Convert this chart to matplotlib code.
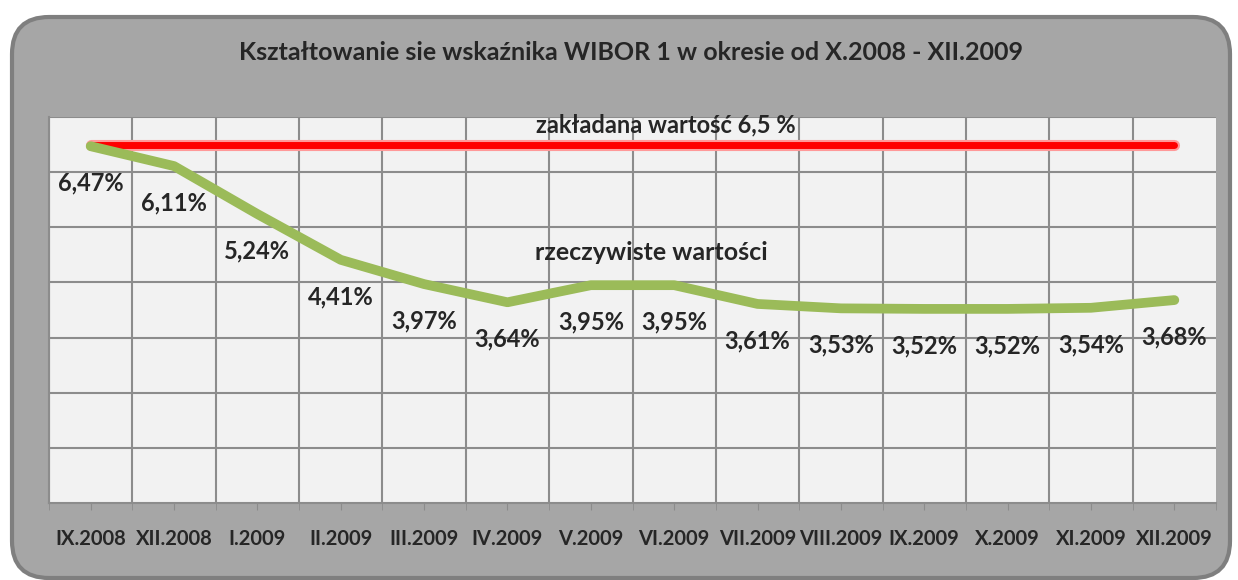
import matplotlib.pyplot as plt
from matplotlib.patches import FancyBboxPatch
from matplotlib.ticker import FixedLocator

# dane
miesiace = ["IX.2008", "XII.2008", "I.2009", "II.2009", "III.2009", "IV.2009", "V.2009",
            "VI.2009", "VII.2009", "VIII.2009", "IX.2009", "X.2009", "XI.2009", "XII.2009"]
wibor = [6.47, 6.11, 5.24, 4.41, 3.97, 3.64, 3.95, 3.95, 3.61, 3.53, 3.52, 3.52, 3.54, 3.68]
zakladana = [6.5] * len(miesiace)
etykiety = [f"{v:.2f}".replace(".", ",") + "%" for v in wibor]

plt.rcParams['font.family'] = ['Lato', 'DejaVu Sans']
plt.rcParams['font.weight'] = 'bold'

fig = plt.figure(figsize=(12.38, 5.8), dpi=100)

# szare tlo z zaokraglonymi rogami
tlo = FancyBboxPatch((12 / 1238, 2 / 580), 1218 / 1238, 561 / 580,
                     boxstyle="round,pad=0,rounding_size=0.03",
                     transform=fig.transFigure, facecolor="#a6a6a6",
                     edgecolor="#7f7f7f", linewidth=3, mutation_aspect=1238 / 580,
                     zorder=-10)
fig.patches.append(tlo)

ax = fig.add_axes([49 / 1238, 1 - 503 / 580, (1216 - 49) / 1238, (503 - 117) / 580])
ax.set_facecolor("#f2f2f2")

x = range(len(miesiace))
# czerwona linia z jasniejsza otoczka
ax.plot(x, zakladana, color="#ff9999", linewidth=8, solid_capstyle="round", zorder=3)
ax.plot(x, zakladana, color="#ff0000", linewidth=5, solid_capstyle="round", zorder=3)
ax.plot(x, wibor, color="#9bbb59", linewidth=7, solid_capstyle="round",
        solid_joinstyle="round", zorder=4)

for i, (v, t) in enumerate(zip(wibor, etykiety)):
    ax.annotate(t, (i, v), xytext=(0, -37), textcoords="offset pixels",
                ha="center", va="center", fontsize=17, fontweight="bold", color="#262626", zorder=5)

ax.text(6.9, 6.85, "zakładana wartość 6,5 %", ha="center", va="center",
        fontsize=17, fontweight="bold", color="#262626")
ax.text(6.73, 4.55, "rzeczywiste wartości", ha="center", va="center",
        fontsize=18, fontweight="bold", color="#262626")

ax.set_xlim(-0.5, len(miesiace) - 0.5)
ax.set_ylim(0, 7)
ax.set_xticks(list(x))
ax.set_xticklabels(miesiace, fontsize=14.5, fontweight="bold", color="#262626")
ax.xaxis.set_minor_locator(FixedLocator([i + 0.5 for i in range(-1, len(miesiace))]))
ax.tick_params(axis="x", which="both", direction="out", length=5, color="#8c8c8c", pad=14)
ax.tick_params(axis="y", left=False, labelleft=False)
ax.set_yticks(range(1, 8))

for yy in range(1, 8):
    ax.axhline(yy, color="#8c8c8c", linewidth=1.5, zorder=1)
for xx in [i + 0.5 for i in range(-1, len(miesiace) - 1)]:
    ax.axvline(xx, color="#8c8c8c", linewidth=1.5, zorder=1)

for s in ["top", "right"]:
    ax.spines[s].set_visible(False)
ax.spines["left"].set_color("#8c8c8c")
ax.spines["bottom"].set_color("#8c8c8c")
ax.spines["left"].set_linewidth(1.5)
ax.spines["bottom"].set_linewidth(1.5)

fig.text(631 / 1238, 1 - 52 / 580, "Kształtowanie sie wskaźnika WIBOR 1 w okresie od X.2008 - XII.2009",
         ha="center", va="center", fontsize=18, fontweight="bold", color="#262626")

fig.savefig("out.png", dpi=100)
